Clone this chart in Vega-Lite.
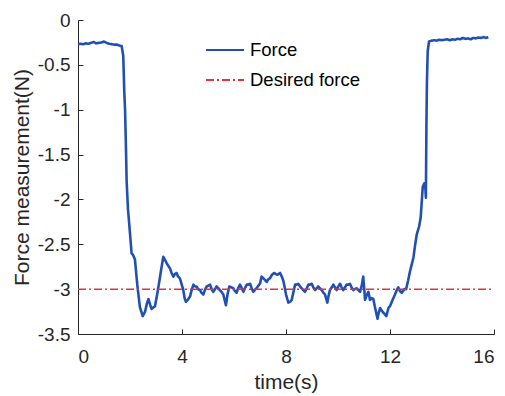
{
  "$schema": "https://vega.github.io/schema/vega-lite/v6.json",
  "width": 416,
  "height": 314,
  "autosize": {"type": "none"},
  "padding": {"left": 78, "top": 20, "right": 11, "bottom": 62},
  "background": "white",
  "config": {
    "view": {"stroke": null},
    "font": "Liberation Sans",
    "axis": {
      "grid": false,
      "domainColor": "#262626",
      "domainWidth": 1,
      "tickColor": "#262626",
      "tickSize": -5,
      "labelColor": "#262626",
      "labelFont": "Liberation Sans",
      "labelFontSize": 19,
      "titleFont": "Liberation Sans",
      "titleFontSize": 21,
      "titleFontWeight": "normal",
      "titleColor": "#262626"
    },
    "legend": {
      "labelFont": "Liberation Sans",
      "labelFontSize": 18.5,
      "labelColor": "#000000"
    }
  },
  "datasets": {
    "force": [
      {"t": 0, "f": -0.27}, {"t": 0.1, "f": -0.265}, {"t": 0.2, "f": -0.27}, {"t": 0.3, "f": -0.26},
      {"t": 0.4, "f": -0.265}, {"t": 0.5, "f": -0.255}, {"t": 0.6, "f": -0.245}, {"t": 0.7, "f": -0.26},
      {"t": 0.8, "f": -0.255}, {"t": 0.9, "f": -0.25}, {"t": 1.0, "f": -0.24}, {"t": 1.1, "f": -0.255},
      {"t": 1.2, "f": -0.265}, {"t": 1.3, "f": -0.27}, {"t": 1.4, "f": -0.275}, {"t": 1.5, "f": -0.275},
      {"t": 1.6, "f": -0.285}, {"t": 1.68, "f": -0.29}, {"t": 1.74, "f": -0.4}, {"t": 1.78, "f": -0.8},
      {"t": 1.81, "f": -1.0}, {"t": 1.85, "f": -1.5}, {"t": 1.87, "f": -1.79}, {"t": 1.92, "f": -2.1},
      {"t": 1.96, "f": -2.24}, {"t": 2.02, "f": -2.45}, {"t": 2.06, "f": -2.6}, {"t": 2.12, "f": -2.62},
      {"t": 2.19, "f": -2.67}, {"t": 2.28, "f": -2.95}, {"t": 2.38, "f": -3.2}, {"t": 2.49, "f": -3.3},
      {"t": 2.58, "f": -3.25}, {"t": 2.65, "f": -3.16}, {"t": 2.71, "f": -3.11}, {"t": 2.77, "f": -3.17},
      {"t": 2.83, "f": -3.22}, {"t": 2.96, "f": -3.19}, {"t": 3.05, "f": -3.05}, {"t": 3.13, "f": -2.91},
      {"t": 3.2, "f": -2.78}, {"t": 3.28, "f": -2.64}, {"t": 3.34, "f": -2.67}, {"t": 3.41, "f": -2.71},
      {"t": 3.47, "f": -2.74}, {"t": 3.54, "f": -2.77}, {"t": 3.6, "f": -2.82}, {"t": 3.67, "f": -2.86},
      {"t": 3.73, "f": -2.83}, {"t": 3.79, "f": -2.82}, {"t": 3.85, "f": -2.86}, {"t": 3.92, "f": -2.88},
      {"t": 3.98, "f": -2.94}, {"t": 4.05, "f": -3.01}, {"t": 4.1, "f": -3.1}, {"t": 4.15, "f": -3.14},
      {"t": 4.22, "f": -3.12}, {"t": 4.31, "f": -3.08}, {"t": 4.38, "f": -3.0}, {"t": 4.44, "f": -2.95},
      {"t": 4.5, "f": -2.97}, {"t": 4.56, "f": -2.97}, {"t": 4.62, "f": -3.0}, {"t": 4.69, "f": -3.01},
      {"t": 4.75, "f": -3.04}, {"t": 4.82, "f": -3.06}, {"t": 4.88, "f": -3.01}, {"t": 4.95, "f": -2.97},
      {"t": 5.01, "f": -2.96}, {"t": 5.08, "f": -2.95}, {"t": 5.14, "f": -3.0}, {"t": 5.2, "f": -3.03},
      {"t": 5.27, "f": -3.0}, {"t": 5.33, "f": -2.97}, {"t": 5.4, "f": -2.99}, {"t": 5.46, "f": -3.01},
      {"t": 5.52, "f": -3.03}, {"t": 5.59, "f": -3.06}, {"t": 5.64, "f": -3.12}, {"t": 5.69, "f": -3.18},
      {"t": 5.75, "f": -3.06}, {"t": 5.82, "f": -2.97}, {"t": 5.9, "f": -2.98}, {"t": 5.97, "f": -2.99},
      {"t": 6.03, "f": -3.02}, {"t": 6.1, "f": -3.04}, {"t": 6.16, "f": -2.99}, {"t": 6.23, "f": -2.95},
      {"t": 6.3, "f": -2.99}, {"t": 6.36, "f": -3.03}, {"t": 6.42, "f": -2.99}, {"t": 6.49, "f": -2.95},
      {"t": 6.55, "f": -2.95}, {"t": 6.62, "f": -2.94}, {"t": 6.68, "f": -2.99}, {"t": 6.74, "f": -3.03},
      {"t": 6.8, "f": -3.01}, {"t": 6.87, "f": -2.99}, {"t": 6.94, "f": -2.96}, {"t": 7.0, "f": -2.94},
      {"t": 7.06, "f": -2.86}, {"t": 7.13, "f": -2.88}, {"t": 7.2, "f": -2.9}, {"t": 7.26, "f": -2.92},
      {"t": 7.32, "f": -2.89}, {"t": 7.38, "f": -2.88}, {"t": 7.46, "f": -2.84}, {"t": 7.54, "f": -2.82},
      {"t": 7.6, "f": -2.83}, {"t": 7.67, "f": -2.84}, {"t": 7.72, "f": -2.83}, {"t": 7.77, "f": -2.82},
      {"t": 7.84, "f": -2.86}, {"t": 7.9, "f": -2.91}, {"t": 7.95, "f": -2.98}, {"t": 8.0, "f": -3.06},
      {"t": 8.05, "f": -3.11}, {"t": 8.09, "f": -3.15}, {"t": 8.16, "f": -3.14}, {"t": 8.22, "f": -3.12},
      {"t": 8.28, "f": -3.04}, {"t": 8.35, "f": -2.95}, {"t": 8.41, "f": -2.95}, {"t": 8.47, "f": -2.94},
      {"t": 8.54, "f": -2.97}, {"t": 8.6, "f": -2.99}, {"t": 8.66, "f": -3.01}, {"t": 8.73, "f": -3.03},
      {"t": 8.8, "f": -2.99}, {"t": 8.86, "f": -2.95}, {"t": 8.92, "f": -2.95}, {"t": 8.99, "f": -2.94},
      {"t": 9.05, "f": -2.98}, {"t": 9.12, "f": -3.01}, {"t": 9.18, "f": -2.99}, {"t": 9.24, "f": -2.97},
      {"t": 9.3, "f": -2.99}, {"t": 9.37, "f": -3.01}, {"t": 9.44, "f": -3.04}, {"t": 9.5, "f": -3.06},
      {"t": 9.55, "f": -3.11}, {"t": 9.59, "f": -3.15}, {"t": 9.64, "f": -3.07}, {"t": 9.69, "f": -3.01},
      {"t": 9.76, "f": -2.98}, {"t": 9.82, "f": -2.95}, {"t": 9.88, "f": -2.98}, {"t": 9.95, "f": -3.01},
      {"t": 10.01, "f": -2.97}, {"t": 10.08, "f": -2.94}, {"t": 10.14, "f": -2.98}, {"t": 10.2, "f": -3.01},
      {"t": 10.27, "f": -2.98}, {"t": 10.33, "f": -2.95}, {"t": 10.4, "f": -2.95}, {"t": 10.46, "f": -2.94},
      {"t": 10.52, "f": -2.98}, {"t": 10.59, "f": -3.01}, {"t": 10.65, "f": -3.0}, {"t": 10.72, "f": -2.99},
      {"t": 10.78, "f": -3.01}, {"t": 10.85, "f": -3.03}, {"t": 10.92, "f": -2.95}, {"t": 10.97, "f": -2.86},
      {"t": 11.01, "f": -3.0}, {"t": 11.04, "f": -3.12}, {"t": 11.1, "f": -3.07}, {"t": 11.17, "f": -3.03},
      {"t": 11.23, "f": -3.12}, {"t": 11.3, "f": -3.1}, {"t": 11.36, "f": -3.11}, {"t": 11.42, "f": -3.2},
      {"t": 11.49, "f": -3.29}, {"t": 11.52, "f": -3.33}, {"t": 11.56, "f": -3.27}, {"t": 11.62, "f": -3.21},
      {"t": 11.68, "f": -3.24}, {"t": 11.74, "f": -3.26}, {"t": 11.8, "f": -3.28}, {"t": 11.86, "f": -3.3},
      {"t": 11.94, "f": -3.21}, {"t": 12.0, "f": -3.19}, {"t": 12.1, "f": -3.12}, {"t": 12.19, "f": -3.06},
      {"t": 12.26, "f": -3.01}, {"t": 12.32, "f": -2.98}, {"t": 12.38, "f": -3.02}, {"t": 12.45, "f": -3.04},
      {"t": 12.55, "f": -3.0}, {"t": 12.62, "f": -3.0}, {"t": 12.7, "f": -2.9}, {"t": 12.77, "f": -2.8},
      {"t": 12.84, "f": -2.72}, {"t": 12.9, "f": -2.65}, {"t": 12.97, "f": -2.5}, {"t": 13.03, "f": -2.39},
      {"t": 13.12, "f": -2.3}, {"t": 13.18, "f": -2.2}, {"t": 13.26, "f": -1.86}, {"t": 13.32, "f": -1.82},
      {"t": 13.35, "f": -1.83}, {"t": 13.38, "f": -1.98}, {"t": 13.4, "f": -1.2}, {"t": 13.42, "f": -0.7},
      {"t": 13.45, "f": -0.35}, {"t": 13.5, "f": -0.24},
      {"t": 13.6, "f": -0.23}, {"t": 13.7, "f": -0.225}, {"t": 13.8, "f": -0.23}, {"t": 13.9, "f": -0.22},
      {"t": 14.0, "f": -0.225}, {"t": 14.1, "f": -0.22}, {"t": 14.2, "f": -0.215}, {"t": 14.3, "f": -0.225},
      {"t": 14.4, "f": -0.215}, {"t": 14.5, "f": -0.22}, {"t": 14.6, "f": -0.21}, {"t": 14.7, "f": -0.215},
      {"t": 14.8, "f": -0.2}, {"t": 14.9, "f": -0.21}, {"t": 15.0, "f": -0.205}, {"t": 15.1, "f": -0.215},
      {"t": 15.2, "f": -0.2}, {"t": 15.3, "f": -0.205}, {"t": 15.4, "f": -0.195}, {"t": 15.5, "f": -0.2},
      {"t": 15.6, "f": -0.19}, {"t": 15.7, "f": -0.2}, {"t": 15.78, "f": -0.19}
    ],
    "desired": [
      {"t": 0, "f": -3},
      {"t": 16, "f": -3}
    ]
  },
  "layer": [
    {
      "data": {"name": "force"},
      "transform": [{"calculate": "'Force'", "as": "series"}],
      "mark": {"type": "line", "strokeWidth": 2.6, "strokeJoin": "round"},
      "encoding": {
        "x": {
          "field": "t", "type": "quantitative",
          "scale": {"domain": [0, 16], "nice": false},
          "axis": {"values": [0, 4, 8, 12, 16], "title": "time(s)", "labelPadding": 18, "titlePadding": 5}
        },
        "y": {
          "field": "f", "type": "quantitative",
          "scale": {"domain": [-3.5, 0], "nice": false},
          "axis": {"values": [0, -0.5, -1, -1.5, -2, -2.5, -3, -3.5], "labelExpr": "toString(datum.value)", "title": "Force measurement(N)", "labelPadding": 13, "titlePadding": 5}
        },
        "color": {
          "field": "series", "type": "nominal",
          "scale": {"domain": ["Force", "Desired force"], "range": ["#2150b4", "#e8303a"]},
          "legend": {
            "title": null, "orient": "none", "legendX": 127, "legendY": 10,
            "symbolType": "stroke", "symbolSize": 1444, "symbolStrokeWidth": 2,
            "labelOffset": 5, "rowPadding": -4
          }
        },
        "strokeDash": {
          "field": "series", "type": "nominal",
          "scale": {"domain": ["Force", "Desired force"], "range": [[1, 0], [8, 3, 2, 3]]},
          "legend": {
            "title": null, "orient": "none", "legendX": 127, "legendY": 10,
            "symbolType": "stroke", "symbolSize": 1444, "symbolStrokeWidth": 2,
            "labelOffset": 5, "rowPadding": -4
          }
        }
      }
    },
    {
      "data": {"name": "desired"},
      "transform": [{"calculate": "'Desired force'", "as": "series"}],
      "mark": {"type": "line", "strokeWidth": 1.5},
      "encoding": {
        "x": {"field": "t", "type": "quantitative"},
        "y": {"field": "f", "type": "quantitative"},
        "color": {"field": "series", "type": "nominal"},
        "strokeDash": {"field": "series", "type": "nominal"}
      }
    }
  ]
}
